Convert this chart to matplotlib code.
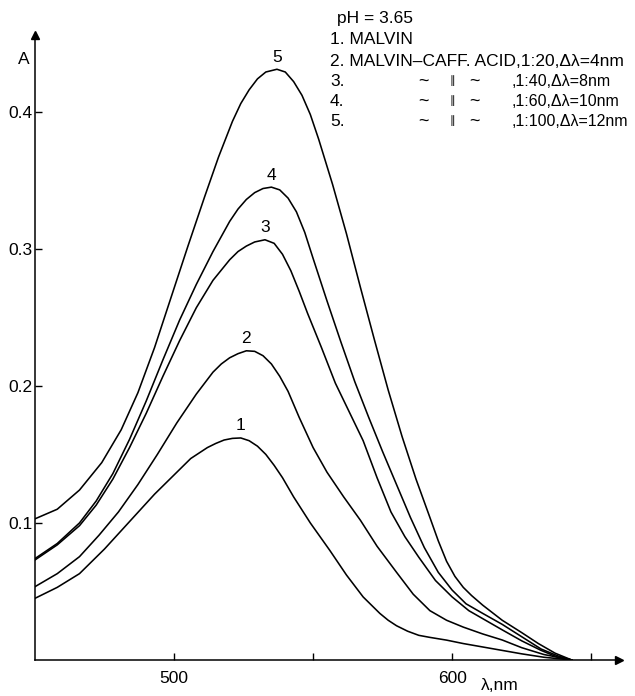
"""
Absorption spectra of malvin and malvin-caffeic acid complexes (pH 3.65).
Recreated as a plain line chart on an axis frame with arrow heads.
"""

import matplotlib
matplotlib.use("Agg")
import matplotlib.pyplot as plt
import numpy as np

# ---- Data (wavelength nm, absorbance) ----
lam1 = [450, 458, 466, 475, 484, 493, 500, 506, 512, 515, 518, 521, 524,
        527, 530, 533, 536, 539, 543, 549, 556, 562, 568, 574, 577, 580,
        584, 588, 592, 598, 604, 611, 618, 625, 633, 643]
abs1 = [0.045, 0.053, 0.063, 0.081, 0.101, 0.121, 0.135, 0.147, 0.155,
        0.158, 0.1605, 0.1617, 0.1620, 0.160, 0.156, 0.150, 0.142, 0.133,
        0.119, 0.100, 0.080, 0.062, 0.046, 0.034, 0.029, 0.025, 0.021,
        0.018, 0.0165, 0.0145, 0.012, 0.0095, 0.007, 0.0045, 0.002, 0.0]

lam2 = [450, 458, 466, 473, 480, 487, 494, 501, 508, 514, 517, 520, 523,
        526, 529, 532, 535, 538, 541, 545, 550, 555, 561, 567, 573, 580,
        586, 592, 598, 604, 611, 618, 625, 633, 643]
abs2 = [0.0535, 0.063, 0.0754, 0.091, 0.108, 0.128, 0.150, 0.173, 0.194,
        0.210, 0.216, 0.2205, 0.2235, 0.2256, 0.2252, 0.222, 0.216, 0.207,
        0.196, 0.177, 0.155, 0.137, 0.119, 0.102, 0.083, 0.064, 0.048,
        0.036, 0.029, 0.024, 0.019, 0.0146, 0.009, 0.004, 0.0]

lam3 = [450, 458, 466, 472, 478, 484, 490, 496, 502, 508, 514, 520, 523,
        526, 529, 532.7, 536, 539, 542, 545, 548, 553, 558, 563, 568, 573,
        578, 583, 588, 594, 600, 606, 612, 618, 625, 632, 638, 643]
abs3 = [0.073, 0.084, 0.098, 0.113, 0.132, 0.155, 0.180, 0.207, 0.233,
        0.257, 0.277, 0.292, 0.298, 0.302, 0.305, 0.3066, 0.304, 0.296,
        0.284, 0.269, 0.253, 0.228, 0.202, 0.181, 0.160, 0.133, 0.108,
        0.090, 0.075, 0.058, 0.046, 0.036, 0.029, 0.022, 0.014, 0.007,
        0.002, 0.0]

lam4 = [450, 458, 466, 472, 478, 484, 490, 496, 502, 508, 514, 520, 523,
        526, 529, 532, 535, 538, 541, 544, 547, 550, 555, 560, 565, 570,
        575, 580, 585, 590, 595, 600, 605, 611, 618, 625, 632, 638, 643]
abs4 = [0.074, 0.085, 0.100, 0.116, 0.136, 0.161, 0.189, 0.219, 0.248,
        0.274, 0.298, 0.320, 0.329, 0.336, 0.341, 0.344, 0.345, 0.343,
        0.337, 0.327, 0.312, 0.293, 0.262, 0.232, 0.203, 0.177, 0.152,
        0.128, 0.104, 0.082, 0.064, 0.051, 0.041, 0.034, 0.026, 0.017,
        0.008, 0.003, 0.0]

lam5 = [450, 458, 466, 474, 481, 487, 493, 499, 505, 511, 516, 521, 524,
        527, 530, 533, 537, 540, 543, 546, 549, 552, 557, 562, 567, 572,
        577, 582, 587, 592, 595, 598, 601, 604, 607, 611, 618, 625, 631,
        637, 643]
abs5 = [0.103, 0.110, 0.124, 0.144, 0.168, 0.195, 0.228, 0.265, 0.302,
        0.338, 0.367, 0.393, 0.406, 0.416, 0.424, 0.429, 0.431, 0.429,
        0.422, 0.412, 0.398, 0.380, 0.347, 0.311, 0.272, 0.234, 0.197,
        0.163, 0.132, 0.104, 0.087, 0.072, 0.061, 0.053, 0.047, 0.040,
        0.029, 0.020, 0.012, 0.005, 0.0]

curves = [(lam1, abs1, "1"), (lam2, abs2, "2"), (lam3, abs3, "3"),
          (lam4, abs4, "4"), (lam5, abs5, "5")]

y_ticks = [0.1, 0.2, 0.3, 0.4]
x_ticks = [500, 550, 600, 650]
x_ticklabels = ["500", "", "600", ""]

legend_head = ["pH = 3.65", "1. MALVIN", "2. MALVIN\u2013CAFF. ACID,1:20,\u0394\u03bb=4nm"]
legend_num = ["3.", "4.", "5."]
legend_tail = [",1:40,\u0394\u03bb=8nm", ",1:60,\u0394\u03bb=10nm", ",1:100,\u0394\u03bb=12nm"]

plt.rcParams["font.family"] = ["Liberation Sans", "DejaVu Sans"]

W, H = 635, 696
fig = plt.figure(figsize=(W / 100, H / 100), dpi=100)
ax = fig.add_axes([35 / W, 36 / H, 584 / W, 625 / H])
ax.set_xlim(450, 660)
ax.set_ylim(0, 0.456)

for lam, a, name in curves:
    ax.plot(lam, a, color="black", lw=1.15, solid_joinstyle="round")
    i = int(np.argmax(a))
    ax.annotate(name, (lam[i], a[i]), xytext=(0, 12), textcoords="offset pixels",
                ha="center", va="center", fontsize=12.5)

# axis frame: only left and bottom, with arrow heads
for s in ("top", "right"):
    ax.spines[s].set_visible(False)
for s in ("left", "bottom"):
    ax.spines[s].set_linewidth(1.1)
ax.plot(1, 0, marker=">", ms=6, color="black", transform=ax.transAxes, clip_on=False)
ax.plot(0, 1, marker="^", ms=6, color="black", transform=ax.transAxes, clip_on=False)

ax.set_yticks(y_ticks)
ax.set_yticklabels([f"{v:.1f}" for v in y_ticks])
ax.set_xticks(x_ticks)
ax.set_xticklabels(x_ticklabels)
ax.tick_params(axis="both", direction="in", length=5, width=1, labelsize=12.5)
ax.tick_params(axis="y", pad=2)
ax.tick_params(axis="x", pad=8)

fig.text(24 / W, 1 - 60 / H, "A", ha="center", va="center", fontsize=12.5)
fig.text(500 / W, 1 - 686 / H, "\u03bb,nm", ha="center", va="center", fontsize=12.5)

# legend block, upper right
fig.text(413 / W, 1 - 19 / H, legend_head[0], ha="right", va="center", fontsize=12.5)
fig.text(330 / W, 1 - 40 / H, legend_head[1], ha="left", va="center", fontsize=12.5)
fig.text(330 / W, 1 - 61 / H, legend_head[2], ha="left", va="center", fontsize=12.5)
for k in range(3):
    yk = 1 - (81 + 20 * k) / H
    fig.text(330 / W, yk, legend_num[k], ha="left", va="center", fontsize=12.5)
    fig.text(423 / W, yk, "~", ha="center", va="center", fontsize=13)
    fig.text(452 / W, yk, "\u2225", ha="center", va="center", fontsize=8,
             family="DejaVu Sans")
    fig.text(474 / W, yk, "~", ha="center", va="center", fontsize=13)
    fig.text(512 / W, yk, legend_tail[k], ha="left", va="center", fontsize=11.5)

fig.savefig("out.png", dpi=100)
